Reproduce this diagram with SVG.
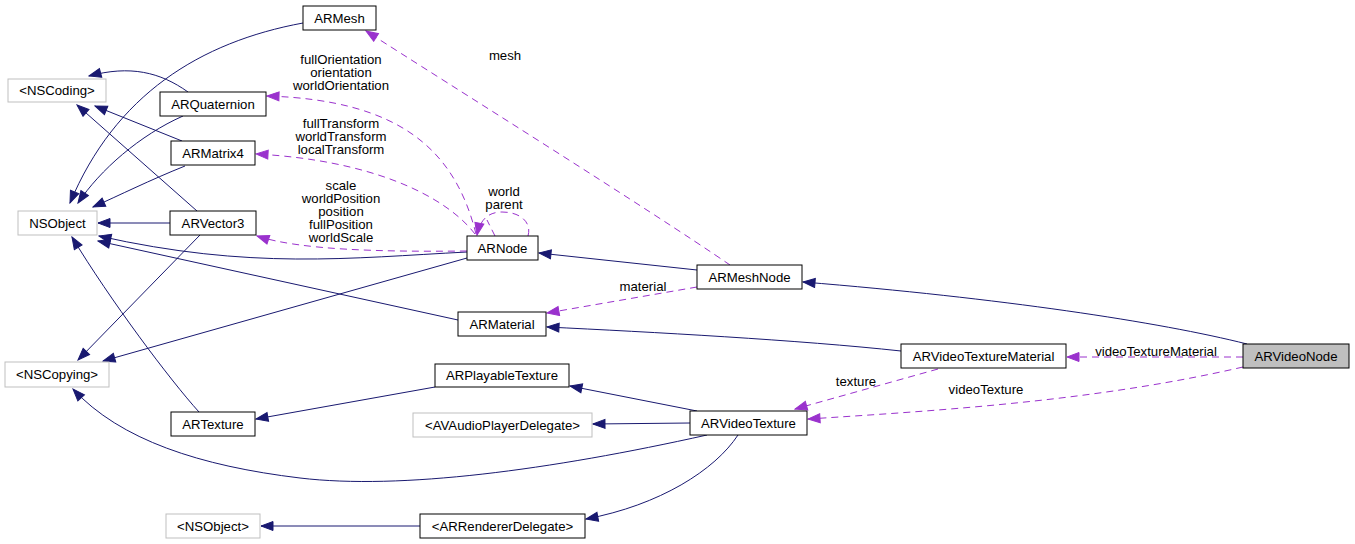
<svg xmlns="http://www.w3.org/2000/svg" width="1355" height="544" viewBox="0 0 1355 544">
<style>
  .n rect { fill: #ffffff; stroke: #000000; stroke-width: 1; }
  .g rect { fill: #ffffff; stroke: #bfbfbf; stroke-width: 1; }
  .h rect { fill: #bfbfbf; stroke: #000000; stroke-width: 1; }
  text { font-family: "Liberation Sans", Arial, Helvetica, sans-serif; font-size: 13.2px; fill: #000000; text-anchor: middle; }
  .inh { fill: none; stroke: #191970; stroke-width: 1; marker-end: url(#ab); }
  .col { fill: none; stroke: #9a32cd; stroke-width: 1; stroke-dasharray: 7,5; marker-end: url(#ap); }
  .noarrow { marker-end: none; }
</style>
<defs>
  <marker id="ab" viewBox="-1 -1 14 11" refX="12" refY="4.5" markerWidth="14" markerHeight="11" markerUnits="userSpaceOnUse" orient="auto">
    <path d="M0,0 L12,4.5 L0,9 Z" fill="#191970" stroke="#191970" stroke-width="1"/>
  </marker>
  <marker id="ap" viewBox="-1 -1 14 11" refX="12" refY="4.5" markerWidth="14" markerHeight="11" markerUnits="userSpaceOnUse" orient="auto">
    <path d="M0,0 L12,4.5 L0,9 Z" fill="#9a32cd" stroke="#9a32cd" stroke-width="1"/>
  </marker>
</defs>
<rect x="0" y="0" width="1355" height="544" fill="#ffffff"/>

<g id="connectors">
  <!-- inheritance / usage (solid) -->
  <path class="inh" d="M303,23 C 200,42 115,95 70,203"/>
  <path class="inh" d="M183,116 C 140,135 100,170 78,203"/>
  <path class="inh" d="M185,166 C 150,180 120,195 93,207"/>
  <path class="inh" d="M170,223 L98,223"/>
  <path class="inh" d="M467,252 C 350,258 250,270 99,236"/>
  <path class="inh" d="M458,320 L98,241"/>
  <path class="inh" d="M199,412 C 170,380 110,300 72,237"/>
  <path class="inh" d="M188,92 C 160,72 130,65 89,76"/>
  <path class="inh" d="M182,141 L95,106"/>
  <path class="inh" d="M197,211 L77,105"/>
  <path class="inh" d="M200,235 L78,360"/>
  <path class="inh" d="M467,258 L103,361"/>
  <path class="inh" d="M707,435 C 550,470 400,490 300,478 C 200,466 120,440 73,389"/>
  <path class="inh" d="M697,270 L539,253"/>
  <path class="inh" d="M1247,344 C 1160,322 1000,298 803,282"/>
  <path class="inh" d="M901,351 C 800,340 650,332 547,327"/>
  <path class="inh" d="M435,387 L256,419"/>
  <path class="inh" d="M697,411 L570,386"/>
  <path class="inh" d="M690,423 L593,424"/>
  <path class="inh" d="M738,435 C 715,470 660,505 586,519"/>
  <path class="inh" d="M420,526 L261,526"/>

  <!-- collaboration (dashed) -->
  <path class="col" d="M730,265 C 650,210 450,85 366,31"/>
  <path class="col" d="M476,234 C 455,150 400,100 267,96"/>
  <path class="col" d="M475,234 C 445,195 370,160 256,154"/>
  <path class="col" d="M467,251 C 380,252 300,250 257,236"/>
  <path class="col" d="M528,236 C 532,222 520,212 502,212 C 488,212 480,220 477,235"/>
  <path class="col noarrow" d="M495,236 L487,220"/>
  <path class="col" d="M697,287 L547,313"/>
  <path class="col" d="M1243,357 L1067,357"/>
  <path class="col" d="M1243,367 C 1100,400 950,410 808,419"/>
  <path class="col" d="M938,369 L795,409"/>

  <!-- labels -->
  <text x="505" y="60">mesh</text>
  <text x="341" y="64">fullOrientation</text>
  <text x="341" y="77">orientation</text>
  <text x="341" y="90">worldOrientation</text>
  <text x="341" y="128">fullTransform</text>
  <text x="341" y="141">worldTransform</text>
  <text x="341" y="154">localTransform</text>
  <text x="341" y="190">scale</text>
  <text x="341" y="203">worldPosition</text>
  <text x="341" y="216">position</text>
  <text x="341" y="229">fullPosition</text>
  <text x="341" y="242">worldScale</text>
  <text x="504" y="196">world</text>
  <text x="504" y="209">parent</text>
  <text x="643" y="291">material</text>
  <text x="1156" y="356">videoTextureMaterial</text>
  <text x="986" y="394">videoTexture</text>
  <text x="856" y="386">texture</text>
</g>

<g id="ARMesh" class="n"><rect x="303" y="6" width="73" height="24"/><text x="339.5" y="22.5">ARMesh</text></g>
<g id="NSCoding" class="g"><rect x="8" y="79" width="98" height="23"/><text x="57" y="95">&lt;NSCoding&gt;</text></g>
<g id="ARQuaternion" class="n"><rect x="160" y="92" width="106" height="24"/><text x="213" y="108.5">ARQuaternion</text></g>
<g id="ARMatrix4" class="n"><rect x="171" y="141" width="84" height="24"/><text x="213" y="157.5">ARMatrix4</text></g>
<g id="NSObject" class="g"><rect x="18" y="211" width="79" height="24"/><text x="57.5" y="227.5">NSObject</text></g>
<g id="ARVector3" class="n"><rect x="170" y="211" width="86" height="24"/><text x="213" y="227.5">ARVector3</text></g>
<g id="ARNode" class="n"><rect x="467" y="236" width="71" height="24"/><text x="502.5" y="252.5">ARNode</text></g>
<g id="ARMeshNode" class="n"><rect x="697" y="265" width="105" height="24"/><text x="749.5" y="281.5">ARMeshNode</text></g>
<g id="ARMaterial" class="n"><rect x="458" y="312" width="88" height="24"/><text x="502" y="328.5">ARMaterial</text></g>
<g id="NSCopying" class="g"><rect x="5" y="362" width="104" height="25"/><text x="57" y="379">&lt;NSCopying&gt;</text></g>
<g id="ARPlayableTexture" class="n"><rect x="435" y="364" width="134" height="23"/><text x="502" y="380">ARPlayableTexture</text></g>
<g id="ARTexture" class="n"><rect x="171" y="412" width="84" height="24"/><text x="213" y="428.5">ARTexture</text></g>
<g id="AVAudioPlayerDelegate" class="g"><rect x="413" y="413" width="179" height="24"/><text x="502.5" y="429.5">&lt;AVAudioPlayerDelegate&gt;</text></g>
<g id="ARVideoTexture" class="n"><rect x="690" y="411" width="117" height="24"/><text x="748.5" y="427.5">ARVideoTexture</text></g>
<g id="NSObjectProtocol" class="g"><rect x="166" y="514" width="94" height="24"/><text x="213" y="530.5">&lt;NSObject&gt;</text></g>
<g id="ARRendererDelegate" class="n"><rect x="420" y="514" width="165" height="24"/><text x="502.5" y="530.5">&lt;ARRendererDelegate&gt;</text></g>
<g id="ARVideoTextureMaterial" class="n"><rect x="901" y="344" width="165" height="24"/><text x="983.5" y="360.5">ARVideoTextureMaterial</text></g>
<g id="ARVideoNode" class="h"><rect x="1243" y="344" width="106" height="24"/><text x="1296" y="360.5">ARVideoNode</text></g>
</svg>
